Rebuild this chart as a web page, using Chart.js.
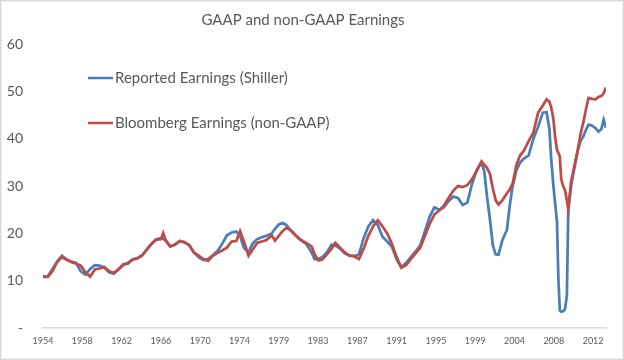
<!DOCTYPE html>
<html>
<head>
<meta charset="utf-8">
<title>GAAP and non-GAAP Earnings</title>
<script src="https://cdn.jsdelivr.net/npm/chart.js@4"></script>
<style>
  body { margin: 0; background: #fff; }
  canvas { display: block; }
</style>
</head>
<body>
<canvas id="myChart" width="624" height="360"></canvas>
<script>
const years = [
  1954.0, 1954.5, 1955.0, 1955.5, 1956.0, 1956.5, 1957.0, 1957.5, 1958.0, 1958.5,
  1959.0, 1959.5, 1960.0, 1960.5, 1961.0, 1961.5, 1962.0, 1962.5, 1963.0, 1963.5,
  1964.0, 1964.5, 1965.0, 1965.5, 1966.0, 1966.5, 1966.75, 1967.0, 1967.5, 1968.0,
  1968.5, 1969.0, 1969.5, 1970.0, 1970.5, 1971.0, 1971.5, 1972.0, 1972.5, 1973.0,
  1973.5, 1974.0, 1974.5, 1974.9, 1975.3, 1975.8, 1976.2, 1976.7, 1977.2, 1977.7,
  1978.25, 1978.6, 1979.0, 1979.4, 1979.8, 1980.2, 1980.7, 1981.25, 1981.9, 1982.5,
  1982.8, 1983.2, 1983.6, 1984.1, 1984.6, 1985.0, 1985.5, 1986.0, 1986.5, 1987.0,
  1987.5, 1988.0, 1988.5, 1989.0, 1989.5, 1990.0, 1990.5, 1991.0, 1991.5, 1992.0,
  1992.5, 1993.0, 1993.5, 1994.0, 1994.5, 1995.0, 1995.5, 1996.0, 1996.5, 1997.0,
  1997.5, 1998.0, 1998.5, 1999.0, 1999.5, 2000.0, 2000.5, 2000.8, 2001.1, 2001.4,
  2001.7, 2002.0, 2002.3, 2002.7, 2003.2, 2003.5, 2003.8, 2004.2, 2004.6, 2005.0,
  2005.5, 2006.0, 2006.5, 2007.0, 2007.4, 2007.7, 2007.9, 2008.1, 2008.3, 2008.5,
  2008.65, 2008.8, 2008.95, 2009.15, 2009.35, 2009.55, 2009.7, 2010.0, 2010.45, 2010.7,
  2011.0, 2011.3, 2011.6, 2011.85, 2012.2, 2012.6, 2012.9, 2013.2, 2013.45, 2013.7
];

const shillerEarnings = [
  10.8, 10.9, 12.5, 14.0, 15.3, 14.5, 14.0, 13.8, 12.0, 11.3,
  12.5, 13.3, 13.2, 12.8, 11.8, 11.5, 12.4, 13.3, 13.8, 14.5,
  14.8, 15.4, 16.6, 17.8, 18.8, 19.0, 18.9, 18.5, 17.3, 17.6,
  18.4, 18.2, 17.5, 16.0, 15.0, 14.4, 14.6, 15.4, 16.3, 17.8,
  19.6, 20.2, 20.4, 19.5, 17.0, 16.0, 17.8, 18.8, 19.2, 19.5,
  20.0, 21.0, 21.9, 22.2, 21.8, 20.8, 19.8, 18.7, 17.8, 15.9,
  14.6, 14.6, 15.0, 16.0, 17.6, 17.5, 16.8, 15.8, 15.3, 15.2,
  15.6, 19.0, 21.5, 22.8, 21.8, 19.3, 18.3, 17.2, 14.5, 12.8,
  13.8, 15.0, 16.2, 17.5, 20.5, 23.5, 25.5, 25.0, 25.5, 26.8,
  27.8, 27.5, 26.0, 26.5, 30.5, 33.5, 35.0, 33.0, 27.5, 22.9,
  17.5, 15.6, 15.5, 18.5, 20.8, 26.0, 30.0, 33.3, 35.0, 35.8,
  36.5, 40.0, 42.5, 45.5, 45.6, 42.0, 35.5, 30.5, 26.5, 22.5,
  10.5, 3.8, 3.5, 3.6, 4.0, 6.8, 25.1, 30.0, 34.8, 37.5,
  39.5, 40.5, 42.0, 43.0, 42.8, 42.2, 41.5, 42.0, 44.0, 42.3
];

const bloombergEarnings = [
  11.0, 10.8, 12.0, 14.0, 15.0, 14.5, 14.0, 13.6, 13.2, 11.8,
  10.9, 12.4, 12.6, 12.9, 12.0, 11.7, 12.4, 13.5, 13.6, 14.5,
  14.7, 15.3, 16.6, 17.8, 18.7, 18.8, 20.1, 18.6, 17.2, 17.7,
  18.4, 18.1, 17.6, 16.0, 15.3, 14.6, 14.2, 15.3, 15.9, 16.4,
  17.0, 18.3, 18.4, 20.5, 18.3, 15.3, 16.5, 18.0, 18.3, 18.6,
  19.6, 18.5, 19.5, 20.5, 21.2, 20.8, 19.8, 18.8, 18.0, 17.2,
  15.6, 14.3, 14.5, 15.6, 16.8, 18.0, 17.0, 16.0, 15.3, 15.2,
  14.6, 16.8, 19.5, 21.5, 22.8, 21.5, 20.0, 17.8, 15.0, 12.8,
  13.3, 14.6, 15.8, 17.0, 19.5, 22.0, 24.0, 24.8, 25.8, 27.5,
  29.0, 30.0, 29.8, 30.2, 31.5, 33.2, 35.2, 34.5, 33.8, 32.5,
  29.5, 27.0, 26.1, 27.0, 28.5, 29.3, 30.5, 34.5, 36.5, 37.5,
  39.5, 41.3, 45.5, 47.0, 48.3, 47.8, 46.5, 44.5, 40.5, 37.7,
  37.0, 36.3, 31.5, 30.0, 29.2, 27.0, 25.1, 31.0, 35.2, 37.5,
  41.0, 43.5, 46.5, 48.6, 48.4, 48.3, 48.8, 49.0, 49.6, 50.8
];

const tickLabels = ['1954', '1958', '1962', '1966', '1970', '1974', '1979', '1983',
  '1987', '1991', '1995', '1999', '2004', '2008', '2012'];

const seriesNames = ['Reported Earnings (Shiller)', 'Bloomberg Earnings (non-GAAP)'];
const seriesColors = ['#4A7EBB', '#BE4B48'];

const fontFamily = 'Lato, Carlito, "Open Sans", sans-serif';
const textColor = '#595959';

const ctx = document.getElementById('myChart');

const data = {
  datasets: [{
    label: seriesNames[0],
    data: years.map((x, i) => ({ x: x, y: shillerEarnings[i] })),
    borderColor: seriesColors[0],
    backgroundColor: seriesColors[0],
    borderWidth: 2.75,
    pointRadius: 0,
    order: 1
  }, {
    label: seriesNames[1],
    data: years.map((x, i) => ({ x: x, y: bloombergEarnings[i] })),
    borderColor: seriesColors[1],
    backgroundColor: seriesColors[1],
    borderWidth: 2.75,
    pointRadius: 0,
    order: 0
  }]
};

// white background + thin frame, and the legend sitting inside the plot
const framePlugin = {
  id: 'frame',
  beforeDraw(chart) {
    const c = chart.ctx;
    c.save();
    c.fillStyle = '#fff';
    c.fillRect(0, 0, chart.width, chart.height);
    c.strokeStyle = '#d9d9d9';
    c.lineWidth = 1.5;
    c.strokeRect(0.75, 0.75, chart.width - 1.5, chart.height - 1.5);
    c.restore();
  },
  afterDraw(chart) {
    const c = chart.ctx;
    c.save();
    c.font = '15px ' + fontFamily;
    c.textBaseline = 'middle';
    chart.data.datasets.forEach((ds, i) => {
      const y = 78 + i * 45;
      c.strokeStyle = ds.borderColor;
      c.lineWidth = 2.5;
      c.beginPath();
      c.moveTo(88, y);
      c.lineTo(113, y);
      c.stroke();
      c.fillStyle = textColor;
      c.fillText(ds.label, 115, y);
    });
    c.restore();
  }
};

const config = {
  type: 'line',
  data,
  plugins: [framePlugin],
  options: {
    responsive: false,
    animation: false,
    layout: {
      padding: { left: 0, right: 18, top: 0, bottom: 7 }
    },
    plugins: {
      legend: { display: false },
      tooltip: { enabled: false },
      title: {
        display: true,
        text: 'GAAP and non-GAAP Earnings',
        color: textColor,
        font: { family: fontFamily, size: 15, weight: 'normal' },
        padding: { top: 11, bottom: 15 }
      }
    },
    scales: {
      x: {
        type: 'linear',
        min: 1954,
        max: 2013.7,
        afterBuildTicks: scale => {
          scale.ticks = tickLabels.map((t, i) => ({ value: 1954 + i * 50 / 12 }));
        },
        ticks: {
          autoSkip: false,
          maxRotation: 0,
          padding: 7,
          color: textColor,
          font: { family: fontFamily, size: 9 },
          callback: (v, i) => tickLabels[i]
        },
        grid: { color: 'rgba(0,0,0,0)', drawTicks: false },
        border: { display: true, color: '#d9d9d9', width: 1.5 }
      },
      y: {
        min: 0,
        max: 60,
        afterFit: scale => { scale.width = 43; },
        ticks: {
          stepSize: 10,
          padding: 20,
          color: textColor,
          font: { family: fontFamily, size: 14 },
          callback: v => v === 0 ? '-' : v
        },
        grid: { display: false, drawTicks: false },
        border: { display: false }
      }
    }
  }
};

let myChart = new Chart(ctx, config);
</script>
</body>
</html>
